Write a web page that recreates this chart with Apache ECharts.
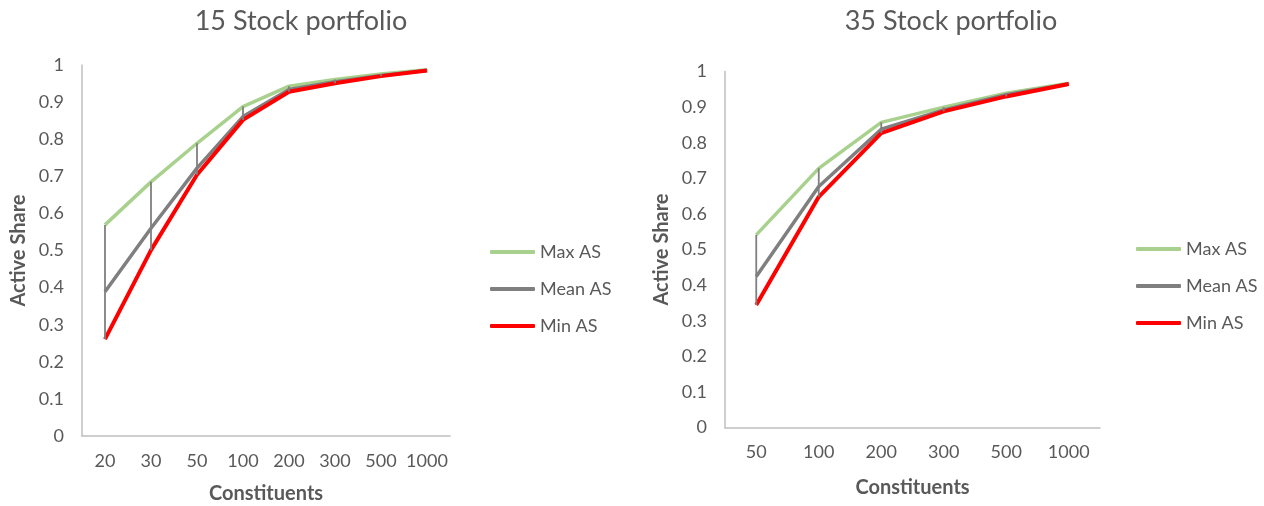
<!DOCTYPE html>
<html><head><meta charset="utf-8">
<script src="https://cdn.jsdelivr.net/npm/echarts@6/dist/echarts.min.js"></script>
<style>html,body{margin:0;padding:0;background:#fff}#c{width:1264px;height:506px}</style>
</head><body><div id="c"></div>
<script>
const catsA = ['20','30','50','100','200','300','500','1000'];
const maxA  = [0.569,0.685,0.789,0.888,0.943,0.961,0.976,0.987];
const meanA = [0.389,0.560,0.722,0.861,0.934,0.955,0.972,0.985];
const minA  = [0.261,0.501,0.704,0.852,0.928,0.951,0.970,0.985];

const catsB = ['50','100','200','300','500','1000'];
const maxB  = [0.541,0.728,0.857,0.900,0.939,0.967];
const meanB = [0.424,0.677,0.838,0.892,0.935,0.965];
const minB  = [0.344,0.648,0.827,0.888,0.930,0.965];

const titles = ['15 Stock portfolio','35 Stock portfolio'];
const yTicks = [0,0.1,0.2,0.3,0.4,0.5,0.6,0.7,0.8,0.9,1];

const FONT = 'Lato, "Open Sans", sans-serif';
const TXT = '#595959';
const C_MAX = '#a9d18e', C_MEAN = '#7f7f7f', C_MIN = '#ff0000';

function hl(maxs, mins){ return maxs.map((v,i)=>[i, mins[i], v]); }

const chart = echarts.init(document.getElementById('c'));
const xAxisBase = (cats, idx, gap) => ({
  type:'category', data:cats, gridIndex:idx, boundaryGap:true,
  axisLine:{lineStyle:{color:'#bfbfbf', width:1.5}}, axisTick:{show:false},
  axisLabel:{color:TXT, fontSize:18, fontFamily:FONT, margin:16, interval:0},
  name:'Constituents', nameLocation:'middle', nameGap:gap,
  nameTextStyle:{color:TXT, fontSize:20, fontWeight:'bold', fontFamily:FONT}
});
const yAxisBase = (idx, gap) => ({
  type:'value', gridIndex:idx, min:0, max:1, interval:0.1,
  axisLine:{show:true, lineStyle:{color:'#bfbfbf', width:1.5}}, axisTick:{show:false},
  splitLine:{show:false},
  axisLabel:{color:TXT, fontSize:18, fontFamily:FONT, margin:18,
    formatter:(v)=>{ const t = yTicks.find(x=>Math.abs(x-v)<1e-9); return t===undefined? '' : String(t); }},
  name:'Active Share', nameLocation:'middle', nameGap:gap, nameRotate:90,
  nameTextStyle:{color:TXT, fontSize:20, fontWeight:'bold', fontFamily:FONT}
});
const lineS = (name, data, color, w, idx, z) => ({
  name, type:'line', data, xAxisIndex:idx, yAxisIndex:idx, symbol:'none',
  lineStyle:{color, width:w}, itemStyle:{color}, z
});
const hlS = (data, idx) => ({
  type:'custom', xAxisIndex:idx, yAxisIndex:idx, data, z:5, silent:true,
  renderItem:(params, api)=>{
    const p1 = api.coord([api.value(0), api.value(2)]);
    const p2 = api.coord([api.value(0), api.value(1)]);
    return {type:'line', shape:{x1:p1[0],y1:p1[1],x2:p2[0],y2:p2[1]},
      style:{stroke:'#7f7f7f', lineWidth:1.8}};
  }
});
const legendBase = (left, top) => ({
  orient:'vertical', left, top, itemGap:15, itemWidth:45, itemHeight:4, icon:'roundRect',
  textStyle:{color:TXT, fontSize:18, fontFamily:FONT, lineHeight:22},
  data:['Max AS','Mean AS','Min AS']
});

chart.setOption({
  animation:false,
  title:[
    {text:titles[0], left:296, top:3, textAlign:'center', textStyle:{color:TXT, fontSize:27, fontWeight:'normal', fontFamily:FONT}},
    {text:titles[1], left:946, top:3, textAlign:'center', textStyle:{color:TXT, fontSize:27, fontWeight:'normal', fontFamily:FONT}}
  ],
  legend:[legendBase(485, 236), legendBase(1131, 233)],
  grid:[
    {left:82, top:65, width:368, height:371, outerBoundsMode:'none'},
    {left:725, top:71.5, width:375, height:356, outerBoundsMode:'none'}
  ],
  xAxis:[xAxisBase(catsA,0,48), xAxisBase(catsB,1,50)],
  yAxis:[yAxisBase(0,53), yAxisBase(1,53)],
  series:[
    lineS('Max AS', maxA, C_MAX, 3.5, 0, 2),
    lineS('Mean AS', meanA, C_MEAN, 3.5, 0, 3),
    lineS('Min AS', minA, C_MIN, 4, 0, 4),
    hlS(hl(maxA, minA), 0),
    lineS('Max AS', maxB, C_MAX, 3.5, 1, 2),
    lineS('Mean AS', meanB, C_MEAN, 3.5, 1, 3),
    lineS('Min AS', minB, C_MIN, 4, 1, 4),
    hlS(hl(maxB, minB), 1)
  ]
});
</script></body></html>
